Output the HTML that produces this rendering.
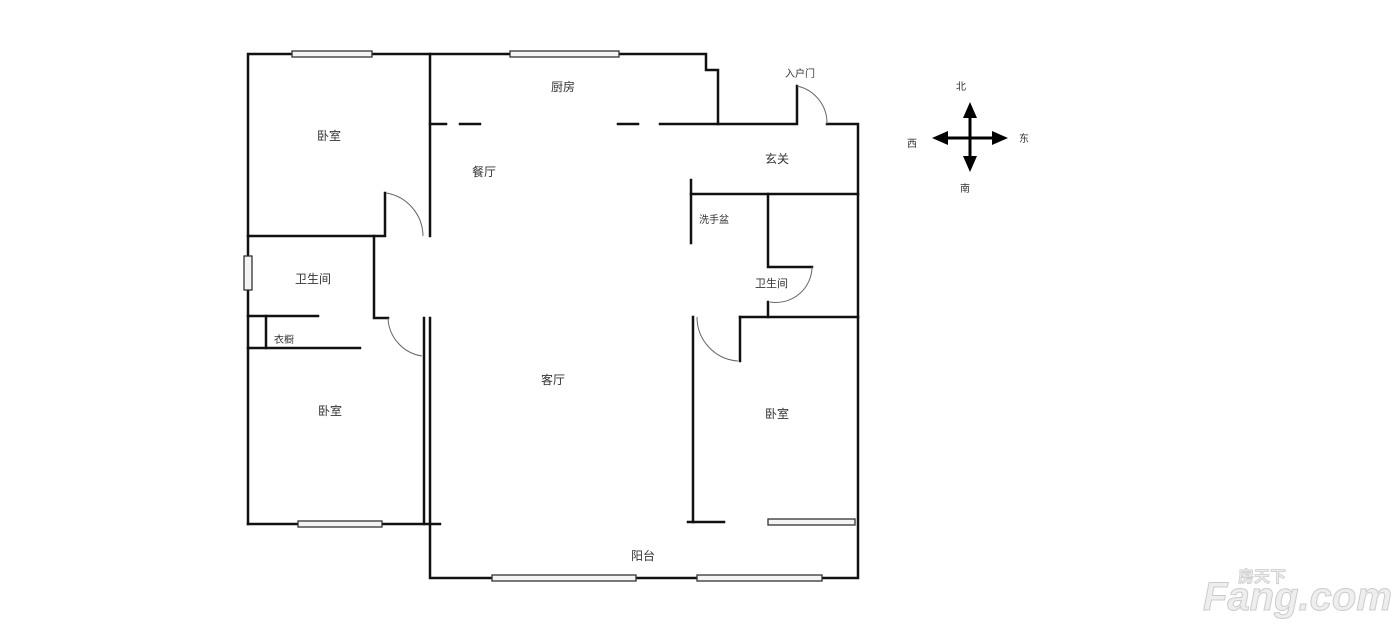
<!DOCTYPE html>
<html><head><meta charset="utf-8"><style>
html,body{margin:0;padding:0;background:#fff;width:1400px;height:633px;overflow:hidden}
svg text{font-family:"Liberation Sans","Noto Sans CJK SC",sans-serif;fill:#333}
</style></head><body>
<svg width="1400" height="633" viewBox="0 0 1400 633" xmlns="http://www.w3.org/2000/svg">
<g stroke="#111" stroke-width="2.5" fill="none" stroke-linecap="square">
<!-- outer -->
<polyline points="248,524 248,54 706,54 706,70 718,70 718,124 797,124 797,86"/>
<polyline points="827,124 858,124 858,578 430,578 430,524"/>
<line x1="248" y1="524" x2="440" y2="524"/>
<!-- left bedroom -->
<line x1="430" y1="54" x2="430" y2="236"/>
<polyline points="248,236 385,236 385,193"/>
<polyline points="374,236 374,318 388,318"/>
<line x1="424" y1="318" x2="424" y2="524"/>
<line x1="430" y1="318" x2="430" y2="524"/>
<line x1="248" y1="316" x2="318" y2="316"/>
<line x1="248" y1="348" x2="360" y2="348"/>
<line x1="266" y1="316" x2="266" y2="348"/>
<!-- dashed kitchen -->
<line x1="430" y1="124" x2="446" y2="124"/>
<line x1="460" y1="124" x2="480" y2="124"/>
<line x1="618" y1="124" x2="638" y2="124"/>
<line x1="660" y1="124" x2="718" y2="124"/>
<!-- right -->
<line x1="691" y1="180" x2="691" y2="243"/>
<line x1="691" y1="194" x2="858" y2="194"/>
<polyline points="768,194 768,267 812,267"/>
<line x1="768" y1="302" x2="768" y2="317"/>
<line x1="740" y1="317" x2="858" y2="317"/>
<line x1="740" y1="317" x2="740" y2="361"/>
<line x1="693" y1="317" x2="693" y2="522"/>
<line x1="688" y1="522" x2="724" y2="522"/>
</g>
<!-- door arcs -->
<g stroke="#666" stroke-width="1" fill="none">
<path d="M797,86 A38,38 0 0 1 827,124"/>
<path d="M386,193 A44,44 0 0 1 423,236"/>
<path d="M388,318 A40,40 0 0 0 422,356"/>
<path d="M812,267 A36,36 0 0 1 770,302"/>
<path d="M697,317 A44,44 0 0 0 738,361"/>
</g>
<!-- windows -->
<g stroke="#333" stroke-width="1.3" fill="#f4f4f4">
<rect x="292" y="51" width="80" height="6"/>
<rect x="510" y="51" width="109" height="6"/>
<rect x="244" y="256" width="8" height="34"/>
<rect x="298" y="521" width="84" height="6"/>
<rect x="492" y="575" width="144" height="6"/>
<rect x="697" y="575" width="125" height="6"/>
<rect x="768" y="519" width="87" height="6"/>
</g>
<g font-size="12">
<text x="551" y="91">厨房</text>
<text x="317" y="140">卧室</text>
<text x="472" y="176">餐厅</text>
<text x="295" y="283">卫生间</text>
<text x="274" y="343" font-size="10">衣橱</text>
<text x="318" y="415">卧室</text>
<text x="541" y="384">客厅</text>
<text x="631" y="560">阳台</text>
<text x="765" y="163">玄关</text>
<text x="699" y="223" font-size="10">洗手盆</text>
<text x="755" y="287" font-size="11">卫生间</text>
<text x="765" y="418">卧室</text>
<text x="785" y="77" font-size="10">入户门</text>
<text x="956" y="90" font-size="10">北</text>
<text x="907" y="147" font-size="10">西</text>
<text x="1019" y="142" font-size="10">东</text>
<text x="960" y="192" font-size="10">南</text>
</g>
<!-- compass -->
<g stroke="#000" stroke-width="3">
<line x1="970" y1="112" x2="970" y2="164"/>
<line x1="940" y1="138" x2="1000" y2="138"/>
</g>
<g fill="#000">
<polygon points="970,102 963,118 977,118"/>
<polygon points="970,172 963,156 977,156"/>
<polygon points="932,138 948,131 948,145"/>
<polygon points="1008,138 992,131 992,145"/>
</g>
<text x="1203" y="610" font-size="40" font-weight="bold" font-style="italic" fill="#e8e8e8" stroke="#ccc" stroke-width="1" style="fill:#eee">Fang.com</text>
<text x="1238" y="582" font-size="16" font-weight="bold" style="fill:#eee" stroke="#ccc" stroke-width="0.8">房天下</text>
</svg>
</body></html>
